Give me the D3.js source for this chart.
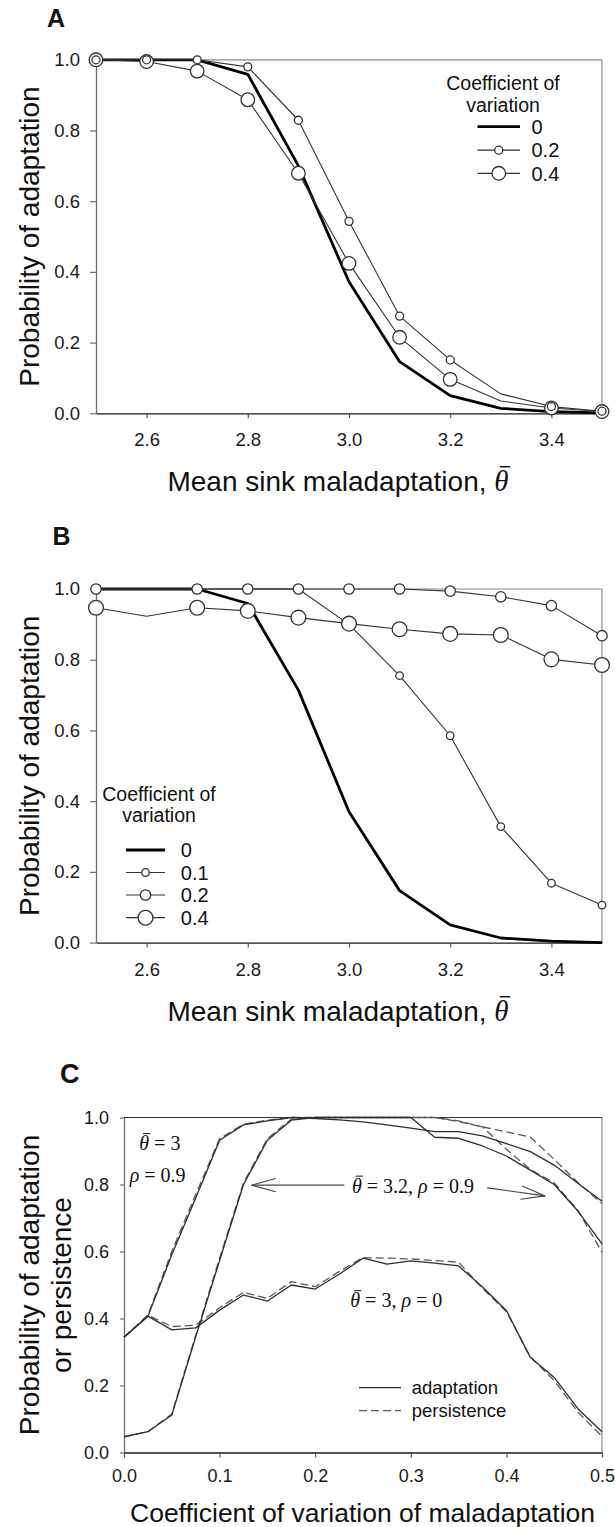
<!DOCTYPE html>
<html>
<head>
<meta charset="utf-8">
<script src="https://d3js.org/d3.v7.min.js"></script>
<style>
body { margin: 0; background: #fff; }
svg { display: block; }
</style>
</head>
<body>
<div id="figure"></div>
<script>
//Data, panels A and B (x = mean sink maladaptation)
var theta = [2.5, 2.6, 2.7, 2.8, 2.9, 3.0, 3.1, 3.2, 3.3, 3.4, 3.5];
var thetaTicks = [2.6, 2.8, 3.0, 3.2, 3.4];
var probTicks = [0.0, 0.2, 0.4, 0.6, 0.8, 1.0];

var adaptA_cv0 = [1.0, 1.0, 1.0, 0.959, 0.70, 0.372, 0.146, 0.05, 0.014, 0.005, 0.001];
var adaptA_cv02 = [1.0, 1.0, 1.0, 0.98, 0.829, 0.543, 0.275, 0.151, 0.055, 0.019, 0.006];
var adaptA_cv04 = [1.0, 0.995, 0.968, 0.887, 0.679, 0.424, 0.215, 0.096, 0.035, 0.015, 0.005];
var noMarkerA = [3.3];
var legendA = ["0", "0.2", "0.4"];

var adaptB_cv0 = [1.0, 1.0, 1.0, 0.959, 0.714, 0.37, 0.147, 0.05, 0.013, 0.004, 0.0];
var adaptB_cv01 = [1.0, 1.0, 1.0, 1.0, 1.0, 0.90, 0.755, 0.585, 0.328, 0.168, 0.106];
var adaptB_cv02 = [1.0, 1.0, 1.0, 1.0, 1.0, 1.0, 1.0, 0.994, 0.978, 0.953, 0.868];
var adaptB_cv04 = [0.947, 0.923, 0.947, 0.938, 0.919, 0.902, 0.886, 0.873, 0.870, 0.801, 0.785];
var noMarkerB = [2.6];
var legendB = ["0", "0.1", "0.2", "0.4"];

//Data, panel C (x = coefficient of variation)
var cvC = [0, 0.025, 0.05, 0.075, 0.1, 0.125, 0.15, 0.175, 0.2, 0.225, 0.25, 0.275, 0.3, 0.325, 0.35, 0.375, 0.4, 0.425, 0.45, 0.475, 0.5];
var cvTicks = [0.0, 0.1, 0.2, 0.3, 0.4, 0.5];
var rho0Adapt = [0.344, 0.407, 0.366, 0.372, 0.425, 0.470, 0.452, 0.500, 0.488, 0.532, 0.580, 0.562, 0.572, 0.565, 0.557, 0.494, 0.424, 0.284, 0.224, 0.130, 0.062];
var rho0Persist = [0.344, 0.410, 0.376, 0.380, 0.432, 0.478, 0.460, 0.510, 0.495, 0.540, 0.582, 0.580, 0.578, 0.573, 0.568, 0.490, 0.420, 0.285, 0.215, 0.120, 0.048];
var th3Adapt = [0.344, 0.407, 0.590, 0.760, 0.932, 0.978, 0.990, 1.0, 0.997, 0.993, 0.987, 0.978, 0.968, 0.958, 0.958, 0.945, 0.922, 0.898, 0.858, 0.803, 0.750];
var th3Persist = [0.344, 0.410, 0.600, 0.770, 0.937, 0.980, 0.992, 1.0, 1.0, 1.0, 1.0, 1.0, 1.0, 1.0, 0.988, 0.972, 0.957, 0.942, 0.875, 0.805, 0.743];
var th32Adapt = [0.047, 0.062, 0.112, 0.345, 0.573, 0.800, 0.932, 0.992, 1.0, 1.0, 1.0, 1.0, 1.0, 0.941, 0.938, 0.915, 0.885, 0.843, 0.800, 0.720, 0.623];
var th32Persist = [0.047, 0.062, 0.115, 0.350, 0.580, 0.805, 0.937, 0.995, 1.0, 1.0, 1.0, 1.0, 1.0, 1.0, 0.990, 0.972, 0.905, 0.845, 0.805, 0.722, 0.598];

//Layout
var W = 615, H = 1527;
var sans = '"Liberation Sans", Arial, sans-serif';
var serif = '"Liberation Serif", "Times New Roman", serif';
var boxA = {left: 96, right: 602, top: 59.8, bottom: 413.3};
var boxB = {left: 96, right: 602, top: 589.0, bottom: 942.6};
var boxC = {left: 124, right: 602, top: 1117.5, bottom: 1452.5};

var svg = d3.select("#figure")
	.append("svg")
	.attr("width", W)
	.attr("height", H)
	.style("background", "#fff");

function drawAxes(box, x, y, xTicks, o) {
	var g = svg.append("g");

	//frame on top and right
	g.append("line")
		.attr("x1", box.left).attr("x2", box.right)
		.attr("y1", box.top).attr("y2", box.top)
		.attr("stroke", o.topColor).attr("stroke-width", 1.2);
	g.append("line")
		.attr("x1", box.right).attr("x2", box.right)
		.attr("y1", box.top).attr("y2", box.bottom)
		.attr("stroke", "#8a8a8a").attr("stroke-width", 1.2);

	//Y axis
	var yAxis = d3.axisLeft(y)
		.tickValues(probTicks)
		.tickFormat(d3.format(".1f"))
		.tickSize(o.yTick)
		.tickSizeOuter(0)
		.tickPadding(o.yPad);
	var gy = g.append("g")
		.attr("transform", "translate(" + box.left + ",0)")
		.call(yAxis)
		.attr("font-family", sans)
		.attr("font-size", o.tickFont);
	gy.select(".domain").attr("stroke", "#707070").attr("stroke-width", 1.3);
	gy.selectAll(".tick line").attr("stroke", "#707070").attr("stroke-width", 1.2);
	gy.selectAll("text").attr("fill", "#1a1a1a");

	//X axis
	var xAxis = d3.axisBottom(x)
		.tickValues(xTicks)
		.tickFormat(d3.format(".1f"))
		.tickSize(5)
		.tickSizeOuter(0)
		.tickPadding(o.xPad);
	var gx = g.append("g")
		.attr("transform", "translate(0," + box.bottom + ")")
		.call(xAxis)
		.attr("font-family", sans)
		.attr("font-size", o.tickFont);
	gx.select(".domain").attr("stroke", "#1a1a1a").attr("stroke-width", 1.3);
	gx.selectAll(".tick line").attr("stroke", "#555").attr("stroke-width", 1.2);
	gx.selectAll("text").attr("fill", "#1a1a1a");
}

function pairs(xs, ys) {
	return xs.map(function(d, i) { return [d, ys[i]]; });
}

function drawLine(x, y, xs, ys, width, color, dash) {
	var line = d3.line()
		.x(function(d) { return x(d[0]); })
		.y(function(d) { return y(d[1]); });
	svg.append("path")
		.datum(pairs(xs, ys))
		.attr("d", line)
		.attr("fill", "none")
		.attr("stroke", color)
		.attr("stroke-width", width)
		.attr("stroke-linejoin", "round")
		.attr("stroke-dasharray", dash || null);
}

function drawMarkers(x, y, xs, ys, r, skip) {
	svg.append("g")
		.selectAll("circle")
		.data(pairs(xs, ys).filter(function(d) { return skip.indexOf(d[0]) < 0; }))
		.enter()
		.append("circle")
		.attr("cx", function(d) { return x(d[0]); })
		.attr("cy", function(d) { return y(d[1]); })
		.attr("r", r)
		.attr("fill", "#fff")
		.attr("stroke", "#333")
		.attr("stroke-width", 1.3);
}

function thetaSpan(sel, size) {
	sel.append("tspan")
		.attr("font-family", serif)
		.attr("font-style", "italic")
		.attr("font-size", size)
		.text("\u03B8");
}

//Bar over the theta of a finished text element
function thetaBar(textSel, size) {
	var n = textSel.node();
	var i = n.textContent.indexOf("\u03B8");
	var r = n.getExtentOfChar(i);
	var base = +textSel.attr("y");
	var x0 = r.x + r.width * 0.38;
	svg.append("line")
		.attr("x1", x0).attr("x2", x0 + size * 0.36)
		.attr("y1", base - size * 0.82).attr("y2", base - size * 0.82)
		.attr("stroke", "#111")
		.attr("stroke-width", Math.max(1, size * 0.05));
}

function panelLabel(txt, px, py, size) {
	svg.append("text")
		.attr("x", px).attr("y", py)
		.attr("font-family", sans)
		.attr("font-weight", "bold")
		.attr("font-size", size)
		.attr("fill", "#111")
		.text(txt);
}

function yTitle(lines, px, cy, size, gap) {
	var t = svg.append("text")
		.attr("transform", "translate(" + px + "," + cy + ") rotate(-90)")
		.attr("text-anchor", "middle")
		.attr("font-family", sans)
		.attr("font-size", size)
		.attr("fill", "#111");
	lines.forEach(function(l, i) {
		t.append("tspan").attr("x", 0).attr("y", i * gap).text(l);
	});
}

function thetaXTitle(cx, py) {
	var t = svg.append("text")
		.attr("x", cx).attr("y", py)
		.attr("text-anchor", "middle")
		.attr("font-family", sans)
		.attr("font-size", 28)
		.attr("fill", "#111");
	t.append("tspan").text("Mean sink maladaptation, ");
	thetaSpan(t, 29);
	thetaBar(t, 29);
}

function legend(title, cx, titleY, labels, radii, rowY, lineX, textX) {
	var g = svg.append("g").attr("font-family", sans).attr("fill", "#111");
	title.forEach(function(l, i) {
		g.append("text")
			.attr("x", cx).attr("y", titleY[i])
			.attr("text-anchor", "middle")
			.attr("font-size", 19.5)
			.text(l);
	});
	labels.forEach(function(l, i) {
		g.append("line")
			.attr("x1", lineX[0]).attr("x2", lineX[1])
			.attr("y1", rowY[i]).attr("y2", rowY[i])
			.attr("stroke", i == 0 ? "#000" : "#333")
			.attr("stroke-width", i == 0 ? 2.8 : 1.2);
		if (radii[i] > 0)
			g.append("circle")
				.attr("cx", (lineX[0] + lineX[1]) / 2).attr("cy", rowY[i])
				.attr("r", radii[i])
				.attr("fill", "#fff").attr("stroke", "#333").attr("stroke-width", 1.3);
		g.append("text")
			.attr("x", textX).attr("y", rowY[i])
			.attr("dy", "0.36em")
			.attr("font-size", 20)
			.text(l);
	});
}

//Panel A
var xA = d3.scaleLinear().domain([2.5, 3.5]).range([boxA.left, boxA.right]);
var yA = d3.scaleLinear().domain([0, 1]).range([boxA.bottom, boxA.top]);
drawAxes(boxA, xA, yA, thetaTicks, {tickFont: 18.5, yTick: 6, yPad: 10, xPad: 15, topColor: "#8a8a8a"});
drawLine(xA, yA, theta, adaptA_cv0, 2.8, "#000");
drawLine(xA, yA, theta, adaptA_cv02, 1.1, "#333");
drawLine(xA, yA, theta, adaptA_cv04, 1.1, "#333");
drawMarkers(xA, yA, theta, adaptA_cv04, 6.8, noMarkerA);
drawMarkers(xA, yA, theta, adaptA_cv02, 4.0, noMarkerA);
panelLabel("A", 47, 27, 25);
yTitle(["Probability of adaptation"], 39, (boxA.top + boxA.bottom) / 2, 28, 0);
thetaXTitle(338, 490.5);
legend(["Coefficient of", "variation"], 503, [90, 111.7], legendA, [0, 4.0, 6.8],
	[126.7, 150.2, 173.3], [477.5, 520], 531.5);

//Panel B
var xB = d3.scaleLinear().domain([2.5, 3.5]).range([boxB.left, boxB.right]);
var yB = d3.scaleLinear().domain([0, 1]).range([boxB.bottom, boxB.top]);
drawAxes(boxB, xB, yB, thetaTicks, {tickFont: 18.5, yTick: 6, yPad: 10, xPad: 15, topColor: "#8a8a8a"});
drawLine(xB, yB, theta, adaptB_cv0, 2.8, "#000");
drawLine(xB, yB, theta, adaptB_cv01, 1.1, "#333");
drawLine(xB, yB, theta, adaptB_cv02, 1.1, "#333");
drawLine(xB, yB, theta, adaptB_cv04, 1.1, "#333");
drawMarkers(xB, yB, theta, adaptB_cv01, 3.8, noMarkerB);
drawMarkers(xB, yB, theta, adaptB_cv02, 5.2, noMarkerB);
drawMarkers(xB, yB, theta, adaptB_cv04, 7.4, noMarkerB);
panelLabel("B", 52.5, 545, 25);
yTitle(["Probability of adaptation"], 39, (boxB.top + boxB.bottom) / 2, 28, 0);
thetaXTitle(338, 1020.5);
legend(["Coefficient of", "variation"], 159, [800.7, 821.7], legendB, [0, 3.8, 5.2, 7.4],
	[850, 872.5, 895, 917.7], [126, 165], 180.8);

//Panel C
var xC = d3.scaleLinear().domain([0, 0.5]).range([boxC.left, boxC.right]);
var yC = d3.scaleLinear().domain([0, 1]).range([boxC.bottom, boxC.top]);
drawAxes(boxC, xC, yC, cvTicks, {tickFont: 18, yTick: 4, yPad: 11, xPad: 12, topColor: "#333"});
var solidC = "#2e2e2e", dashC = "#5a5a5a", dashPattern = "8,4";
drawLine(xC, yC, cvC, rho0Persist, 1.3, dashC, dashPattern);
drawLine(xC, yC, cvC, th3Persist, 1.3, dashC, dashPattern);
drawLine(xC, yC, cvC, th32Persist, 1.3, dashC, dashPattern);
drawLine(xC, yC, cvC, rho0Adapt, 1.3, solidC);
drawLine(xC, yC, cvC, th3Adapt, 1.3, solidC);
drawLine(xC, yC, cvC, th32Adapt, 1.3, solidC);
panelLabel("C", 60, 1083, 27);
yTitle(["Probability of adaptation", "or persistence"], 39, (boxC.top + boxC.bottom) / 2, 28, 31.5);
svg.append("text")
	.attr("x", 130).attr("y", 1521.5)
	.attr("font-family", sans)
	.attr("font-size", 26.5)
	.attr("fill", "#111")
	.text("Coefficient of variation of maladaptation");

//Panel C annotations (placed in data units)
function note(cv, p, parts) {
	var t = svg.append("text")
		.attr("x", xC(cv)).attr("y", yC(p))
		.attr("font-family", serif)
		.attr("font-size", 20)
		.attr("fill", "#111");
	parts.forEach(function(s) {
		if (s == "theta") thetaSpan(t, 20);
		else if (s == "rho") t.append("tspan").attr("font-style", "italic").text("\u03C1");
		else t.append("tspan").text(s);
	});
	if (parts.indexOf("theta") >= 0) thetaBar(t, 20);
}
note(0.016, 0.903, ["theta", " = 3"]);
note(0.006, 0.808, ["rho", " = 0.9"]);
note(0.2385, 0.776, ["theta", " = 3.2, ", "rho", " = 0.9"]);
note(0.2367, 0.434, ["theta", " = 3, ", "rho", " = 0"]);

function arrow(from, to) {
	var x1 = xC(from[0]), y1 = yC(from[1]), x2 = xC(to[0]), y2 = yC(to[1]);
	var a = Math.atan2(y2 - y1, x2 - x1), len = 25, spread = 0.27;
	var g = svg.append("g").attr("stroke", "#444").attr("stroke-width", 1.1).attr("fill", "none");
	g.append("line").attr("x1", x1).attr("y1", y1).attr("x2", x2).attr("y2", y2);
	[-spread, spread].forEach(function(s) {
		g.append("line")
			.attr("x1", x2).attr("y1", y2)
			.attr("x2", x2 - len * Math.cos(a + s))
			.attr("y2", y2 - len * Math.sin(a + s));
	});
}
arrow([0.2304, 0.798], [0.1335, 0.798]);
arrow([0.380, 0.790], [0.4406, 0.766]);

//Panel C legend
var legC = svg.append("g").attr("font-family", sans).attr("font-size", 18.5).attr("fill", "#111");
[["adaptation", null, 1387.7], ["persistence", dashPattern, 1410.7]].forEach(function(d) {
	legC.append("line")
		.attr("x1", 359).attr("x2", 401)
		.attr("y1", d[2]).attr("y2", d[2])
		.attr("stroke", d[1] ? dashC : solidC)
		.attr("stroke-width", 1.3)
		.attr("stroke-dasharray", d[1]);
	legC.append("text")
		.attr("x", 411.7).attr("y", d[2])
		.attr("dy", "0.36em")
		.text(d[0]);
});
</script>
</body>
</html>
